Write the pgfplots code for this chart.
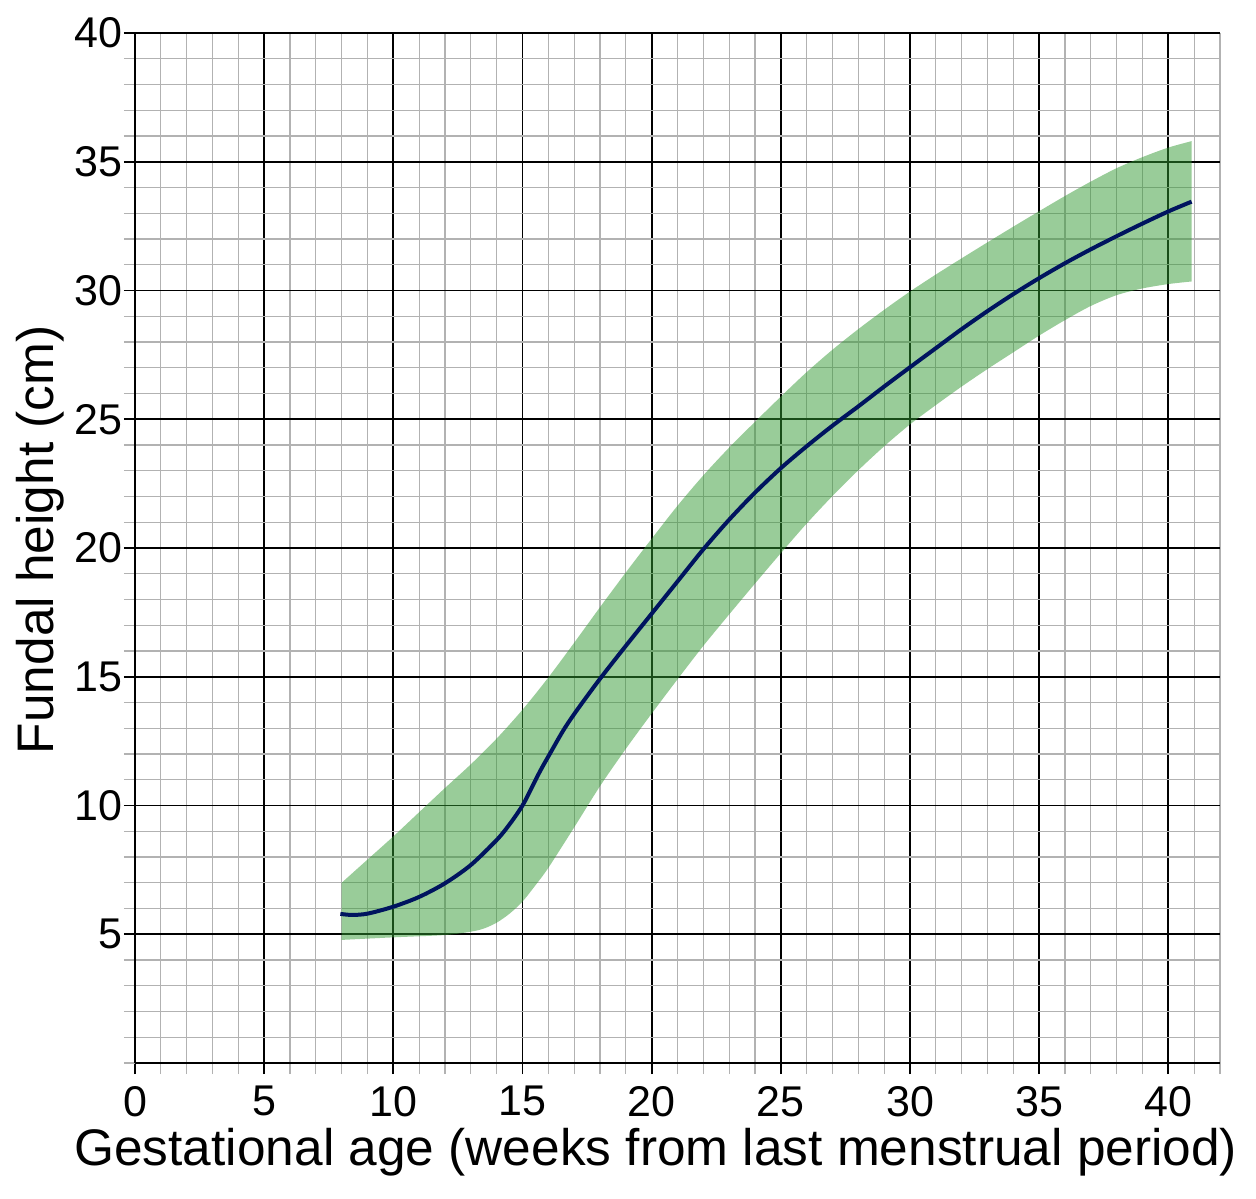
\documentclass[border=0pt]{standalone}
\usepackage{pgfplots}
\pgfplotsset{compat=1.18}
\usepgfplotslibrary{fillbetween}
\usepackage{fontspec}
\setmainfont{Liberation Sans}
\definecolor{bandgreen}{RGB}{51,153,51}
\definecolor{navyline}{RGB}{0,20,95}
\definecolor{minorgrid}{RGB}{178,178,178}
\begin{document}
\begin{tikzpicture}
\begin{axis}[
  scale only axis,
  width=542.5pt, height=515pt,
  xmin=0, xmax=42, ymin=0, ymax=40,
  axis lines=left,
  axis line style={line width=1.4pt, -},
  xtick={0,5,...,40}, ytick={5,10,...,40},
  minor xtick={0,1,...,42}, minor ytick={0,1,...,40},
  grid=both,
  major grid style={black, line width=0.9pt},
  minor grid style={minorgrid, line width=0.65pt},
  tick align=outside,
  major tick length=5.5pt, minor tick length=5.5pt,
  every major tick/.append style={black, line width=0.9pt},
  every minor tick/.append style={minorgrid, line width=0.65pt},
  ticklabel style={font=\fontsize{21.5}{25}\selectfont},
  yticklabel style={xshift=2.5pt},
  xticklabel style={yshift=-2.5pt},
  /pgf/number format/assume math mode=true,
  xlabel={Gestational age (weeks from last menstrual period)},
  ylabel={Fundal height (cm)},
  label style={font=\fontsize{25.7}{30}\selectfont},
  xlabel style={at={(axis description cs:0.480,-0.087)}, anchor=center},
  ylabel style={at={(axis description cs:-0.0876,0.508)}, anchor=center},
]
\addplot[name path=U, draw=none, smooth] coordinates {
(8,7.0) (9,7.9) (10,8.8) (11,9.74) (12,10.68) (13,11.6) (14,12.6) (15,13.72)
(16,14.97) (17,16.32) (18,17.7) (19,19.05) (20,20.36) (21,21.64) (22,22.82)
(23,23.9) (24,24.9) (25,25.88) (26,26.83) (27,27.7) (28,28.5) (29,29.25)
(30,29.96) (31,30.62) (32,31.25) (33,31.87) (34,32.48) (35,33.08) (36,33.67)
(37,34.23) (38,34.75) (39,35.18) (40,35.55) (40.9,35.8)
};
\addplot[name path=L, draw=none, smooth] coordinates {
(8,4.78) (10,4.88) (12,4.97) (13,5.1) (13.5,5.22) (14,5.45) (14.5,5.8) (15,6.27) (15.5,6.9)
(16,7.58) (17,9.15) (18,10.75) (19,12.2) (20,13.57) (21,14.9) (22,16.2)
(23,17.42) (24,18.62) (25,19.8) (26,20.95) (27,22.02) (28,23.02) (29,23.95)
(30,24.8) (31,25.55) (32,26.27) (33,26.95) (34,27.6) (35,28.25) (36,28.85)
(37,29.4) (38,29.82) (39,30.08) (40,30.25) (40.9,30.35)
};
\addplot[bandgreen, opacity=0.5, draw=none] fill between[of=U and L];
\addplot[navyline, line width=2pt, smooth] coordinates {
(7.95,5.79) (8.4,5.75) (9,5.8) (10,6.07) (11,6.45) (12,6.98) (13,7.69) (14,8.66)
(14.5,9.27) (15,10.0) (15.37,10.72) (15.7,11.37) (16.1,12.08) (16.6,12.95) (17.12,13.72)
(18,14.92) (19,16.2) (20,17.45) (21,18.7) (22,19.95) (23,21.1) (24,22.15) (25,23.1)
(26,23.95) (27,24.75) (28,25.5) (29,26.27) (30,27.02) (31,27.76) (32,28.5) (33,29.2)
(34,29.86) (35,30.48) (36,31.06) (37,31.6) (38,32.11) (39,32.6) (40,33.07) (40.9,33.45)
};
\end{axis}
\pgfresetboundingbox
\path[use as bounding box] (-67.5pt,-67.5pt) rectangle (560.5pt,531.5pt);
\end{tikzpicture}
\end{document}
